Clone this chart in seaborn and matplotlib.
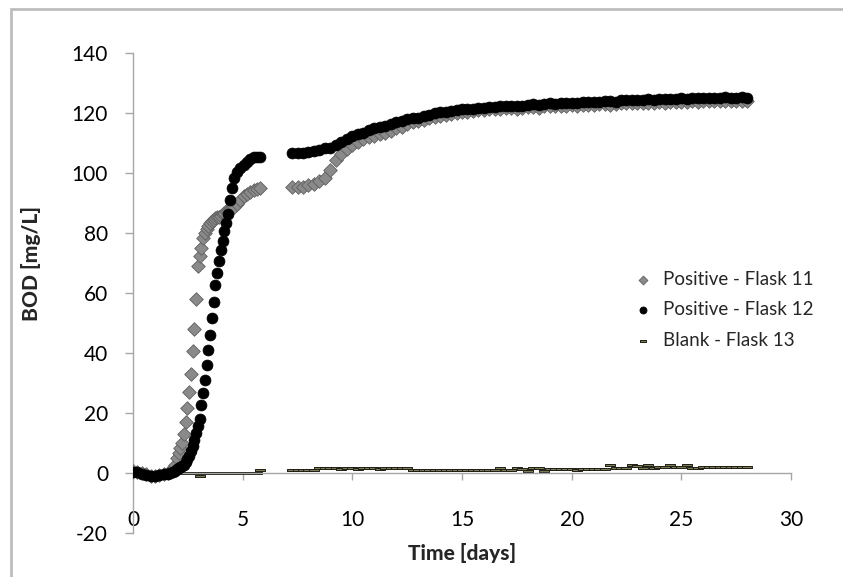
import numpy as np
import pandas as pd
import matplotlib
matplotlib.use("Agg")
import matplotlib.pyplot as plt
import matplotlib.patches as mpatches
import seaborn as sns

# measurement times [days]
time_days = [
    0.0, 0.2, 0.4, 0.6, 0.8, 1.0, 1.2, 1.4, 1.6, 1.7, 1.8, 1.9, 2.0, 2.08, 2.16, 2.24,
    2.32, 2.4, 2.48, 2.56, 2.64, 2.72, 2.8, 2.88, 2.96, 3.04, 3.12, 3.2, 3.28, 3.36, 3.44,
    3.52, 3.6, 3.68, 3.76, 3.84, 3.92, 4.0, 4.08, 4.16, 4.24, 4.32, 4.4, 4.5, 4.6, 4.75,
    4.9, 5.05, 5.2, 5.35, 5.5, 5.65, 5.8,
    7.25, 7.5, 7.75, 8.0, 8.25, 8.5, 8.75, 9.0, 9.25, 9.5, 9.75, 10.0, 10.25, 10.5, 10.75,
    11.0, 11.25, 11.5, 11.75, 12.0, 12.25, 12.5, 12.75, 13.0, 13.25, 13.5, 13.75, 14.0,
    14.25, 14.5, 14.75, 15.0, 15.25, 15.5, 15.75, 16.0, 16.25, 16.5, 16.75, 17.0, 17.25,
    17.5, 17.75, 18.0, 18.25, 18.5, 18.75, 19.0, 19.25, 19.5, 19.75, 20.0, 20.25, 20.5,
    20.75, 21.0, 21.25, 21.5, 21.75, 22.0, 22.25, 22.5, 22.75, 23.0, 23.25, 23.5, 23.75,
    24.0, 24.25, 24.5, 24.75, 25.0, 25.25, 25.5, 25.75, 26.0, 26.25, 26.5, 26.75, 27.0,
    27.25, 27.5, 27.75, 28.0,
]

flask11 = [
    0.5, 0.3, 0.0, -0.5, -1.0, -1.0, -0.8, -0.3, 0.0, 0.5, 1.2, 2.5, 5.0, 6.8, 8.3, 10.0,
    13.0, 17.0, 21.5, 27.0, 33.0, 40.5, 48.0, 58.0, 69.0, 72.5, 75.0, 78.5, 80.0, 81.5, 82.5,
    83.3, 84.0, 84.5, 85.0, 85.2, 85.4, 85.8, 86.3, 86.8, 87.2, 87.5, 88.0, 88.5, 88.8, 89.8,
    91.0, 92.2, 93.0, 93.8, 94.3, 94.7, 94.9,
    95.2, 95.3, 95.5, 96.0, 96.5, 97.5, 98.5, 101.0, 104.5, 106.5, 108.0, 109.5, 110.5, 111.3, 112.0,
    112.5, 113.0, 113.5, 114.0, 115.0, 115.5, 116.3, 117.0, 117.3, 117.8, 118.3, 118.6, 119.0,
    119.4, 119.8, 120.0, 120.3, 120.5, 120.8, 121.0, 121.0, 121.2, 121.3, 121.5, 121.6, 121.8,
    121.5, 121.8, 122.0, 122.0, 121.8, 122.2, 122.4, 122.2, 122.5, 122.5, 122.6, 122.5, 122.8,
    122.8, 122.7, 123.0, 123.0, 122.8, 123.1, 123.2, 123.2, 123.3, 123.3, 123.4, 123.2, 123.5,
    123.6, 123.5, 123.6, 123.8, 123.7, 123.8, 123.9, 123.8, 123.9, 124.0, 123.9, 124.0, 124.1,
    124.0, 124.1, 124.0, 124.1,
]

flask12 = [
    0.3, 0.2, -0.2, -0.6, -0.9, -0.9, -0.8, -0.5, -0.2, 0.0, 0.3, 0.7, 1.2, 1.6, 2.0, 2.4,
    2.8, 3.6, 4.6, 5.8, 7.3, 9.0, 11.0, 13.2, 15.5, 18.0, 22.5, 26.8, 31.0, 36.0, 41.0,
    46.0, 51.5, 57.0, 62.7, 66.8, 70.8, 74.2, 77.5, 80.7, 83.3, 86.5, 91.0, 95.0, 98.5, 100.5,
    101.8, 102.8, 103.8, 104.8, 105.4, 105.5, 105.5,
    106.6, 106.7, 106.8, 107.0, 107.2, 107.8, 108.3, 108.5, 109.5, 110.5, 111.5, 112.5, 113.0, 113.5, 114.5,
    115.0, 115.5, 115.8, 116.3, 117.0, 117.5, 118.0, 118.2, 118.5, 119.0, 119.5, 120.0, 120.2,
    120.5, 120.8, 121.0, 121.2, 121.3, 121.5, 121.7, 121.8, 122.0, 122.0, 122.2, 122.5, 122.5,
    122.3, 122.5, 122.8, 123.0, 122.8, 123.0, 123.2, 123.0, 123.2, 123.5, 123.5, 123.4, 123.6,
    123.8, 123.6, 123.8, 124.0, 124.0, 123.8, 124.2, 124.2, 124.3, 124.5, 124.3, 124.6, 124.5,
    124.7, 124.8, 124.6, 124.8, 125.0, 124.8, 125.0, 125.0, 124.9, 125.1, 125.0, 125.0, 125.2,
    125.0, 125.1, 125.2, 125.0,
]

blank13 = [
    0.3, 0.0, 0.0, 0.0, 0.0, 0.0, 0.0, 0.0, 0.0, 0.0, 0.0, 0.0, 0.0, 0.0, 0.0, 0.0,
    0.0, 0.0, 0.0, 0.0, 0.0, 0.0, 0.0, 0.0, 0.0, -1.0, 0.0, 0.0, 0.0, 0.0, 0.0,
    0.0, 0.0, 0.0, 0.0, 0.0, 0.0, 0.0, 0.0, 0.0, 0.0, 0.0, 0.0, 0.0, 0.0, 0.0,
    0.0, 0.0, 0.0, 0.0, 0.0, 0.0, 1.0,
    1.0, 1.0, 1.0, 1.0, 1.0, 1.5, 1.5, 1.5, 1.5, 1.3, 1.5, 1.5, 1.3, 1.5, 1.5,
    1.5, 1.3, 1.5, 1.5, 1.6, 1.5, 1.5, 1.0, 1.0, 1.0, 1.0, 1.0, 1.0,
    1.0, 1.0, 1.0, 1.0, 1.0, 1.0, 1.0, 1.0, 1.0, 1.0, 1.8, 1.0, 1.0,
    1.5, 1.2, 0.7, 1.5, 1.5, 0.8, 1.4, 1.4, 1.4, 1.4, 1.4, 1.0, 1.3,
    1.3, 1.3, 1.3, 1.3, 2.8, 1.5, 1.5, 1.8, 2.8, 2.2, 1.8, 2.8, 1.5,
    2.0, 2.0, 2.7, 2.0, 2.0, 2.7, 1.6, 1.6, 2.0, 2.0, 2.0, 2.0, 2.0,
    2.0, 2.0, 2.0, 2.0,
]

df = pd.DataFrame({"time": time_days, "f11": flask11, "f12": flask12, "f13": blank13})

sns.set_style("white")
plt.rcParams['font.family'] = ['Lato', 'DejaVu Sans']
plt.rcParams['axes.unicode_minus'] = False

fig = plt.figure(figsize=(8.43, 5.77), dpi=100)
ax = fig.add_axes([0.1578, 0.0763, 0.7805, 0.8318])

dash = [(-1, -0.2), (1, -0.2), (1, 0.2), (-1, 0.2), (-1, -0.2)]

sns.scatterplot(data=df, x="time", y="f13", ax=ax, marker=dash, s=45,
                color="#7d7d55", edgecolor="#1f1f18", linewidth=0.7,
                label="Blank - Flask 13", zorder=2)
sns.scatterplot(data=df, x="time", y="f11", ax=ax, marker="D", s=48,
                color="#8a8a8a", edgecolor="#5f5f5f", linewidth=0.6,
                label="Positive - Flask 11", zorder=3)
sns.scatterplot(data=df, x="time", y="f12", ax=ax, marker="o", s=62,
                color="black", edgecolor="black", linewidth=0.5,
                label="Positive - Flask 12", zorder=4)

ax.set_xlim(0, 30)
ax.set_ylim(-20, 140)
ax.set_xticks(range(0, 31, 5))
ax.set_yticks(range(-20, 141, 20))

for s in ["top", "right"]:
    ax.spines[s].set_visible(False)
ax.spines["bottom"].set_position(("data", 0))
for s in ["left", "bottom"]:
    ax.spines[s].set_color("#a6a6a6")
    ax.spines[s].set_linewidth(1.0)

ax.tick_params(axis="x", direction="out", length=5, width=1, color="#a6a6a6",
               pad=22, labelsize=15, labelcolor="black", bottom=True)
ax.tick_params(axis="y", direction="out", length=6, width=1, color="#a6a6a6",
               pad=12, labelsize=15, labelcolor="black", left=True)

ax.set_xlabel("Time [days]", fontsize=15, fontweight="black")
ax.xaxis.set_label_coords(0.5, -0.02)
ax.set_ylabel("BOD [mg/L]", fontsize=15, fontweight="black")
ax.yaxis.set_label_coords(-0.14, 0.5625)

handles, labels = ax.get_legend_handles_labels()
order = [1, 2, 0]
ax.legend([handles[i] for i in order], [labels[i] for i in order],
          loc="upper left", bbox_to_anchor=(0.735, 0.562), frameon=False,
          fontsize=13.5, markerscale=0.65, handletextpad=0.05, labelspacing=0.72,
          borderaxespad=0)

# outer chart border (Excel style)
fig.patches.append(mpatches.Rectangle((11 / 843, -0.1), 1.2, 1.1 - 9 / 577,
                                      transform=fig.transFigure, fill=False,
                                      edgecolor="#bdbdbd", linewidth=2))

fig.savefig("out.png", dpi=100)
